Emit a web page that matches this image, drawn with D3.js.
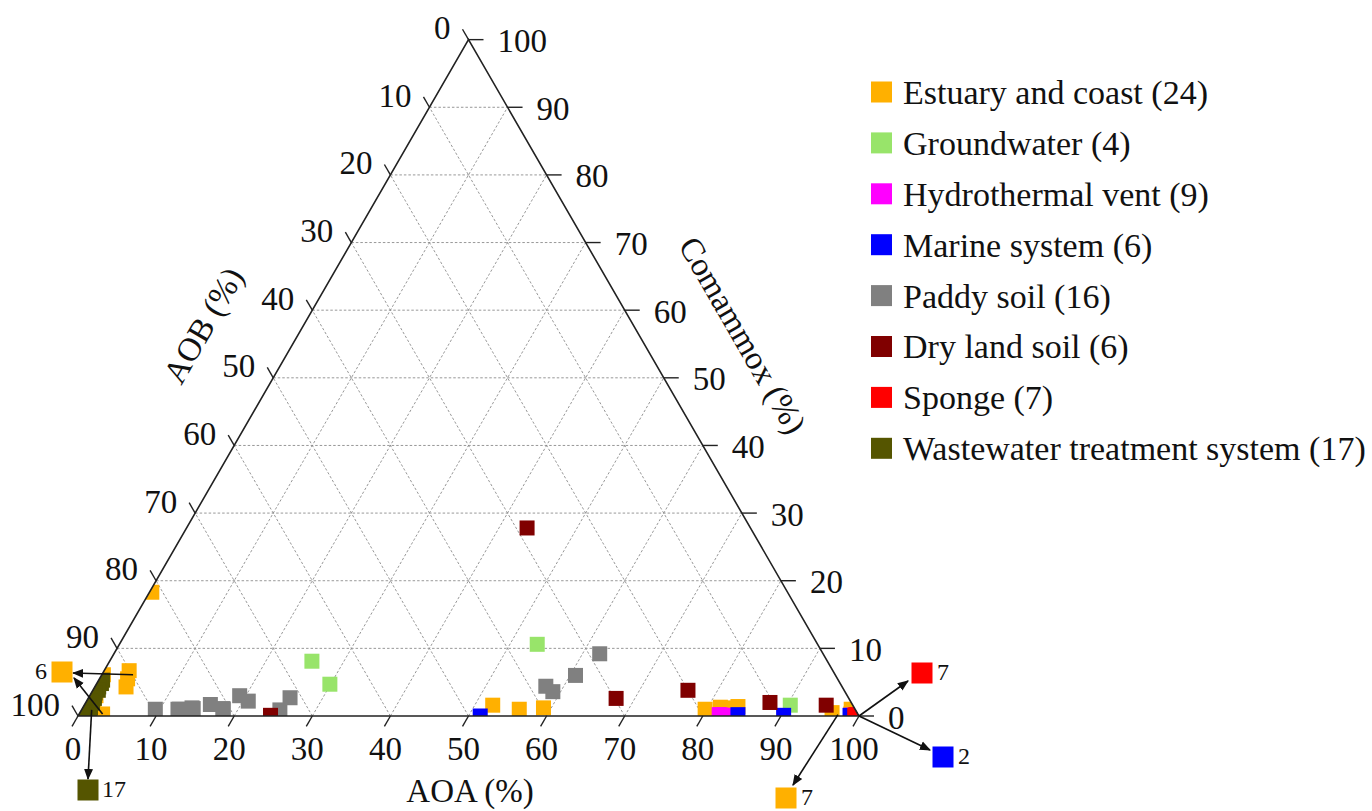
<!DOCTYPE html>
<html>
<head>
<meta charset="utf-8">
<script src="https://cdn.jsdelivr.net/npm/d3@7"></script>
<style>
  body { margin: 0; background: #fff; }
  svg { font-family: "Liberation Serif", "Times New Roman", serif; }
</style>
</head>
<body>
<div id="chart"></div>
<script>
// values are [AOA, AOB, Comammox] in %
const estuary = [
  [0.3, 81.4, 18.3], [3.2, 90.1, 6.7], [3.6, 90.9, 5.5], [4.0, 91.7, 4.3],
  [0.2, 93.7, 6.1], [3.0, 96.7, 0.3], [1.0, 97.0, 2.0], [0.8, 96.2, 3.0], [1.5, 97.5, 1.0], [0.5, 95.5, 4.0],
  [52.3, 46.1, 1.6], [56.0, 43.0, 1.0], [59.0, 39.8, 1.2],
  [79.8, 19.2, 1.0], [81.6, 17.1, 1.3], [82.4, 16.4, 1.2], [83.8, 14.8, 1.4],
  [96.3, 3.2, 0.5], [98.5, 0.5, 1.0], [99.2, 0.5, 0.3], [99.5, 0.3, 0.2], [99.0, 0.8, 0.2], [98.8, 0.9, 0.3], [99.6, 0.2, 0.2]
];
const groundwater = [[25.9, 66.0, 8.1], [29.9, 65.4, 4.7], [53.5, 35.9, 10.6], [90.4, 8.0, 1.6]];
const hydrothermal = [
  [82.3, 17.6, 0.1], [82.0, 17.8, 0.2], [82.6, 17.3, 0.1], [82.2, 17.7, 0.1], [82.5, 17.4, 0.1],
  [82.1, 17.8, 0.1], [99.0, 0.9, 0.1], [99.3, 0.6, 0.1], [99.1, 0.8, 0.1]
];
const marine = [[51.5, 48.5, 0.0], [84.4, 15.4, 0.2], [90.3, 9.6, 0.1], [98.8, 1.1, 0.1], [99.8, 0.2, 0.0], [99.9, 0.1, 0.0]];
const paddy = [
  [9.4, 89.6, 1.0], [12.3, 86.7, 1.0], [14.0, 84.8, 1.2], [16.1, 82.2, 1.7], [18.1, 80.9, 1.0],
  [19.2, 77.8, 3.0], [20.7, 77.1, 2.2], [25.4, 73.7, 0.9], [25.8, 71.5, 2.7],
  [12.5, 86.5, 1.0], [14.2, 84.7, 1.1], [18.0, 80.9, 1.1],
  [57.7, 37.9, 4.4], [59.0, 37.4, 3.6], [60.7, 33.3, 6.0], [62.2, 28.6, 9.2]
];
const dryLand = [[24.6, 75.3, 0.1], [43.6, 28.6, 27.8], [67.6, 29.8, 2.6], [76.2, 20.0, 3.8], [87.6, 10.4, 2.0], [95.0, 3.4, 1.6]];
const sponge = [[99.5, 0.3, 0.2], [99.7, 0.2, 0.1], [99.8, 0.1, 0.1], [99.6, 0.4, 0.0], [99.9, 0.1, 0.0], [99.4, 0.5, 0.1], [99.8, 0.2, 0.0]];
const wastewater = [
  [0.5, 94.2, 5.3], [0.6, 94.6, 4.8], [0.5, 95.2, 4.3], [0.7, 95.5, 3.8], [0.5, 96.1, 3.4], [0.6, 96.4, 3.0],
  [0.8, 96.6, 2.6], [0.6, 97.2, 2.2], [0.9, 97.2, 1.9], [0.7, 97.8, 1.5], [1.0, 97.8, 1.2], [0.8, 98.3, 0.9],
  [1.2, 98.2, 0.6], [1.0, 98.6, 0.4], [1.4, 98.4, 0.2], [0.5, 99.4, 0.1], [0.3, 99.4, 0.3]
];

const seriesNames = ["Estuary and coast (24)", "Groundwater (4)", "Hydrothermal vent (9)", "Marine system (6)",
  "Paddy soil (16)", "Dry land soil (6)", "Sponge (7)", "Wastewater treatment system (17)"];
const seriesColors = ["#FFB000", "#98E46A", "#FF00FF", "#0000FF", "#808080", "#800000", "#FF0000", "#555500"];
const seriesData = [estuary, groundwater, hydrothermal, marine, paddy, dryLand, sponge, wastewater];

const ticks = [0, 10, 20, 30, 40, 50, 60, 70, 80, 90, 100];

// callouts: series index, composition the arrow starts at, label
const callouts = [
  { s: 0, label: "6", box: [62, 672], from: [[4.0, 94.7, 6.1], [3.0, 96.7, 0.3]], tip: [[73, 673], [74, 678]], lx: -15 },
  { s: 7, label: "17", box: [88, 790], from: [[1.3, 97.9, 0.9]], tip: [[88, 779]], lx: 14 },
  { s: 6, label: "7", box: [922, 673], from: [[100, 0, 0]], tip: [[908, 681]], lx: 15 },
  { s: 3, label: "2", box: [943, 757], from: [[100, 0, 0]], tip: [[930, 750]], lx: 15 },
  { s: 0, label: "7", box: [786, 798], from: [[97.2, 2.6, 0.2]], tip: [[793, 785]], lx: 15 }
];

const W = 1372, H = 811;
const x0 = 78, x1 = 859, yBase = 716;
const side = x1 - x0;
const yApex = yBase - side * Math.sqrt(3) / 2;
const mark = 15;

const xs = d3.scaleLinear().domain([0, 100]).range([x0, x1]);
const ys = d3.scaleLinear().domain([0, 100]).range([yBase, yApex]);
// a = AOA, c = Comammox
function pos(a, c) { return [xs(a + c / 2), ys(c)]; }

const svg = d3.select("#chart").append("svg")
  .attr("width", W).attr("height", H);

const corners = [pos(0, 0), pos(100, 0), pos(0, 100)];
const defs = svg.append("defs");

defs.append("clipPath").attr("id", "tri")
  .append("polygon").attr("points", corners.map(p => p.join(",")).join(" "));

// grid
const grid = svg.append("g").attr("stroke", "#8c8c8c").attr("stroke-width", 0.9)
  .attr("stroke-dasharray", "2.5,2");
ticks.slice(1, -1).forEach(k => {
  const segs = [
    [pos(0, k), pos(100 - k, k)],
    [pos(k, 0), pos(k, 100 - k)],
    [pos(100 - k, 0), pos(0, 100 - k)]
  ];
  segs.forEach(s => grid.append("line")
    .attr("x1", s[0][0]).attr("y1", s[0][1]).attr("x2", s[1][0]).attr("y2", s[1][1]));
});

// points
const pts = svg.append("g").attr("clip-path", "url(#tri)");
seriesData.forEach((data, i) => {
  pts.append("g").selectAll("rect").data(data).join("rect")
    .attr("x", d => pos(d[0], d[2])[0] - mark / 2)
    .attr("y", d => pos(d[0], d[2])[1] - mark / 2)
    .attr("width", mark).attr("height", mark)
    .attr("fill", seriesColors[i]);
});

// triangle
svg.append("polygon")
  .attr("points", corners.map(p => p.join(",")).join(" "))
  .attr("fill", "none").attr("stroke", "#222").attr("stroke-width", 1.6);

const fs = 33;
const axes = svg.append("g").attr("font-size", fs).attr("fill", "#111");
const cos60 = 0.5, sin60 = Math.sqrt(3) / 2, tl = 12;

ticks.forEach(k => {
  // bottom: AOA
  let p = pos(k, 0);
  axes.append("line").attr("x1", p[0]).attr("y1", p[1])
    .attr("x2", p[0] - tl * cos60).attr("y2", p[1] + tl * sin60)
    .attr("stroke", "#222").attr("stroke-width", 1.4);
  axes.append("text").attr("x", p[0] - 5).attr("y", 748).attr("dy", "0.35em")
    .attr("text-anchor", "middle").text(k);
  // left: AOB
  p = pos(0, 100 - k);
  axes.append("line").attr("x1", p[0]).attr("y1", p[1])
    .attr("x2", p[0] - tl * cos60).attr("y2", p[1] - tl * sin60)
    .attr("stroke", "#222").attr("stroke-width", 1.4);
  axes.append("text").attr("x", p[0] - 18).attr("y", p[1] - 12).attr("dy", "0.35em")
    .attr("text-anchor", "end").text(k);
  // right: Comammox
  p = pos(100 - k, k);
  axes.append("line").attr("x1", p[0]).attr("y1", p[1])
    .attr("x2", p[0] + 15).attr("y2", p[1])
    .attr("stroke", "#222").attr("stroke-width", 1.4);
  axes.append("text").attr("x", p[0] + 29).attr("y", p[1] + 1).attr("dy", "0.35em")
    .attr("text-anchor", "start").text(k);
});

axes.append("text").attr("x", 470).attr("y", 790).attr("dy", "0.35em")
  .attr("text-anchor", "middle").text("AOA (%)");
axes.append("text").attr("transform", "translate(203,325) rotate(-60)").attr("dy", "0.35em")
  .attr("text-anchor", "middle").text("AOB (%)");
axes.append("text").attr("transform", "translate(743,335) rotate(60)").attr("dy", "0.35em")
  .attr("text-anchor", "middle").text("Comammox (%)");

// callouts
defs.append("marker").attr("id", "arr")
  .attr("viewBox", "0 0 10 10").attr("refX", 9).attr("refY", 5)
  .attr("markerWidth", 7).attr("markerHeight", 7).attr("orient", "auto")
  .append("path").attr("d", "M0,1 L10,5 L0,9 Z").attr("fill", "#111");

const co = svg.append("g");
callouts.forEach(c => {
  c.from.forEach((f, j) => {
    const p = pos(f[0], f[2]);
    co.append("line").attr("x1", p[0]).attr("y1", p[1])
      .attr("x2", c.tip[j][0]).attr("y2", c.tip[j][1])
      .attr("stroke", "#111").attr("stroke-width", 1.6).attr("marker-end", "url(#arr)");
  });
  co.append("rect").attr("x", c.box[0] - 10.5).attr("y", c.box[1] - 10.5)
    .attr("width", 21).attr("height", 21).attr("fill", seriesColors[c.s]);
  co.append("text").attr("x", c.box[0] + c.lx).attr("y", c.box[1] - 1).attr("dy", "0.35em")
    .attr("text-anchor", c.lx < 0 ? "end" : "start").attr("font-size", 24).attr("fill", "#111")
    .text(c.label);
});

// legend
const lg = svg.append("g").attr("font-size", 34);
seriesNames.forEach((n, i) => {
  const y = 92 + i * 50.9;
  lg.append("rect").attr("x", 871).attr("y", y - 10.5).attr("width", 21).attr("height", 21)
    .attr("fill", seriesColors[i]);
  lg.append("text").attr("x", 903).attr("y", y).attr("dy", "0.35em").attr("fill", "#111").text(n);
});
</script>
</body>
</html>
